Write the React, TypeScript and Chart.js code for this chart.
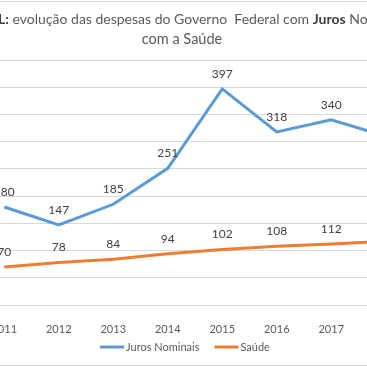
import React, { useEffect, useRef } from 'react';
import { Chart, registerables } from 'chart.js';

Chart.register(...registerables);

const categories = ['2011', '2012', '2013', '2014', '2015', '2016', '2017', '2018'];
const jurosNominais = [180, 147, 185, 251, 397, 318, 340, 310];
const saude = [70, 78, 84, 94, 102, 108, 112, 117];
const seriesNames = ['Juros Nominais', 'Saúde'];
const seriesColors = ['#5b9bd5', '#ed7d31'];
const titleLine1 = [
  { text: 'BRASIL:', bold: true },
  { text: ' evolução das despesas do Governo  Federal com ', bold: false },
  { text: 'Juros', bold: true },
  { text: ' Nominais e', bold: false },
];
const titleLine2 = 'com a Saúde';

const FONT = 'Lato, "Open Sans", sans-serif';
const CW = 484;
const CH = 367;
const OFFSET_X = -60;

const titlePlugin = {
  id: 'customTitle',
  afterDraw(chart: any) {
    const ctx = chart.ctx;
    const cx = chart.width / 2;
    ctx.save();
    ctx.textBaseline = 'middle';
    ctx.textAlign = 'left';
    const fontFor = (b: boolean) => `${b ? 'bold ' : ''}14px ${FONT}`;
    let total = 0;
    for (const s of titleLine1) {
      ctx.font = fontFor(s.bold);
      total += ctx.measureText(s.text).width;
    }
    let x = cx - total / 2 + 6;
    for (const s of titleLine1) {
      ctx.font = fontFor(s.bold);
      ctx.fillStyle = s.bold ? '#404040' : '#595959';
      ctx.fillText(s.text, x, 19);
      x += ctx.measureText(s.text).width;
    }
    ctx.font = `14.5px ${FONT}`;
    ctx.fillStyle = '#595959';
    ctx.textAlign = 'center';
    ctx.fillText(titleLine2, cx, 39);
    // chart frame lines
    ctx.strokeStyle = '#d9d9d9';
    ctx.lineWidth = 1;
    ctx.beginPath();
    ctx.moveTo(0, 1.5);
    ctx.lineTo(chart.width, 1.5);
    ctx.moveTo(0, CH - 1.5);
    ctx.lineTo(chart.width, CH - 1.5);
    ctx.stroke();
    ctx.restore();
  },
};

const dataLabelPlugin = {
  id: 'dataLabels',
  afterDatasetsDraw(chart: any) {
    const ctx = chart.ctx;
    ctx.save();
    ctx.font = `12px ${FONT}`;
    ctx.fillStyle = '#404040';
    ctx.textAlign = 'center';
    ctx.textBaseline = 'middle';
    chart.data.datasets.forEach((ds: any, i: number) => {
      const meta = chart.getDatasetMeta(i);
      meta.data.forEach((el: any, j: number) => {
        ctx.fillText(String(ds.data[j]), el.x, el.y - 15);
      });
    });
    ctx.restore();
  },
};

const legendPlugin = {
  id: 'customLegend',
  afterDraw(chart: any) {
    const ctx = chart.ctx;
    ctx.save();
    ctx.font = `11px ${FONT}`;
    ctx.textBaseline = 'middle';
    ctx.textAlign = 'left';
    const lineLen = 24;
    const gap = 2;
    const itemGap = 15;
    const widths = seriesNames.map((n) => lineLen + gap + ctx.measureText(n).width);
    const total = widths.reduce((a, b) => a + b, 0) + itemGap * (widths.length - 1);
    let x = chart.width / 2 - total / 2 + 3;
    const y = 347;
    seriesNames.forEach((n, i) => {
      ctx.strokeStyle = seriesColors[i];
      ctx.lineWidth = 3;
      ctx.beginPath();
      ctx.moveTo(x, y);
      ctx.lineTo(x + lineLen, y);
      ctx.stroke();
      ctx.fillStyle = '#595959';
      ctx.fillText(n, x + lineLen + gap, y);
      x += widths[i] + itemGap;
    });
    ctx.restore();
  },
};

export default function App() {
  const ref = useRef<HTMLCanvasElement>(null);
  useEffect(() => {
    const chart = new Chart(ref.current!, {
      type: 'line',
      data: {
        labels: categories,
        datasets: [
          {
            label: seriesNames[0],
            data: jurosNominais,
            borderColor: seriesColors[0],
            backgroundColor: seriesColors[0],
            borderWidth: 3,
            pointRadius: 0,
            tension: 0,
          },
          {
            label: seriesNames[1],
            data: saude,
            borderColor: seriesColors[1],
            backgroundColor: seriesColors[1],
            borderWidth: 3,
            pointRadius: 0,
            tension: 0,
          },
        ],
      },
      options: {
        animation: false,
        responsive: false,
        layout: { padding: { left: 37, right: 11, top: 60, bottom: 32 } },
        plugins: {
          legend: { display: false },
          title: { display: false },
          tooltip: { enabled: false },
        },
        scales: {
          x: {
            offset: true,
            grid: { display: false },
            border: { display: true, color: '#d9d9d9', width: 1 },
            ticks: { color: '#595959', font: { family: FONT, size: 11 }, padding: 10 },
            afterFit(scale: any) {
              scale.height = 30;
            },
          },
          y: {
            min: 0,
            max: 450,
            ticks: { display: false, stepSize: 50 },
            grid: { color: '#d9d9d9', drawTicks: false },
            border: { display: false },
            afterFit(scale: any) {
              scale.width = 0;
            },
          },
        },
      },
      plugins: [titlePlugin, dataLabelPlugin, legendPlugin],
    });
    return () => chart.destroy();
  }, []);
  return (
    <div style={{ position: 'fixed', left: 0, top: 0, width: 367, height: 367, overflow: 'hidden', background: '#fff' }}>
      <canvas ref={ref} width={CW} height={CH} style={{ position: 'absolute', left: OFFSET_X, top: 0, width: CW, height: CH }} />
    </div>
  );
}
